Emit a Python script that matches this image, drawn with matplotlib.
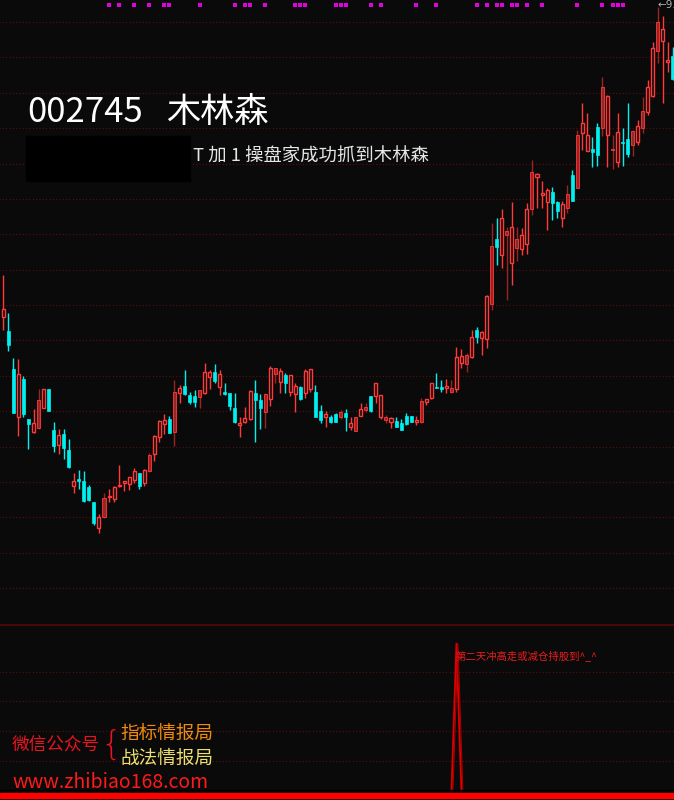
import matplotlib
matplotlib.use("Agg")
import matplotlib.pyplot as plt
from matplotlib.patches import Rectangle
from matplotlib.lines import Line2D
import matplotlib.transforms as mtransforms
import numpy as np

plt.rcParams['font.family'] = ['Noto Sans CJK SC', 'DejaVu Sans']

# ---------------- data ----------------
# candle types: u = red hollow (up), d = cyan solid (down), r = dark red solid (up)
kind = list(
    "udduddurudduddudddduruuuuuuduruuudrudddruudud"
    "dduuuddruruduuduudduddrdururduurudddduruuddur"
    "uuruduurdururuuruuuddurdruuddruruddruruuruudu"
)
opens = [6.83, 6.69, 6.31, 5.83, 6.21, 5.81, 5.68, 5.72, 5.92, 6.11,
         5.70, 5.55, 5.66, 5.50, 5.14, 5.21, 5.19, 5.13, 4.98, 4.72,
         4.83, 5.04, 5.01, 5.14, 5.17, 5.16, 5.20, 5.27, 5.17, 5.29,
         5.46, 5.63, 5.76, 5.81, 5.68, 6.07, 6.14, 6.05, 5.98, 6.03,
         6.07, 6.28, 6.19, 6.26, 6.06, 6.07, 5.92, 5.75, 5.78, 5.81,
         6.07, 6.00, 5.88, 6.01, 6.26, 6.29, 6.17, 6.25, 6.06, 6.13,
         6.07, 6.31, 6.08, 5.80, 5.86, 5.78, 5.78, 5.83, 5.87, 5.77,
         5.69, 5.84, 5.90, 5.89, 6.04, 6.05, 5.83, 5.82, 5.79, 5.70,
         5.76, 5.84, 5.78, 5.78, 6.01, 6.02, 6.13, 6.11, 6.12, 6.08,
         6.11, 6.44, 6.36, 6.43, 6.63, 6.68, 6.61, 6.96, 7.53, 7.45,
         7.65, 7.37, 7.52, 7.51, 7.56, 7.91, 8.26, 8.07, 7.98, 7.97,
         7.98, 7.82, 7.92, 7.99, 8.12, 8.67, 8.65, 8.51, 8.45, 8.72,
         9.04, 8.51, 8.38, 8.57, 8.46, 8.55, 8.58, 8.72, 8.88, 9.04,
         9.49, 9.71, 9.38, 9.21]
highs = [7.25, 6.87, 6.42, 6.41, 6.24, 5.81, 5.91, 6.11, 6.11, 6.11,
         5.78, 5.71, 5.71, 5.61, 5.27, 5.30, 5.29, 5.15, 4.98, 4.86,
         5.07, 5.11, 5.14, 5.35, 5.19, 5.23, 5.32, 5.27, 5.31, 5.47,
         5.65, 5.80, 5.86, 5.84, 6.20, 6.15, 6.30, 6.08, 6.10, 6.10,
         6.37, 6.30, 6.36, 6.30, 6.17, 6.07, 6.07, 5.83, 5.93, 6.10,
         6.20, 6.06, 6.07, 6.34, 6.32, 6.32, 6.27, 6.25, 6.17, 6.14,
         6.31, 6.31, 6.15, 5.95, 5.89, 5.85, 5.87, 5.90, 5.91, 5.83,
         5.83, 5.97, 5.97, 6.04, 6.17, 6.05, 5.85, 5.83, 5.83, 5.81,
         5.87, 5.84, 5.84, 6.02, 6.01, 6.17, 6.27, 6.20, 6.21, 6.20,
         6.53, 6.51, 6.47, 6.70, 6.73, 6.69, 7.05, 7.77, 7.82, 7.91,
         7.73, 7.98, 7.73, 7.72, 7.97, 8.40, 8.27, 8.19, 8.12, 8.13,
         7.99, 7.99, 8.15, 8.30, 8.70, 8.97, 8.87, 8.63, 8.77, 9.23,
         9.05, 8.65, 8.87, 8.72, 8.97, 8.70, 8.80, 9.03, 9.20, 9.58,
         9.93, 9.84, 9.58, 9.53]
lows = [6.70, 6.49, 5.87, 5.64, 5.83, 5.51, 5.67, 5.71, 5.92, 5.89,
        5.48, 5.46, 5.41, 5.32, 5.07, 5.11, 4.98, 4.99, 4.75, 4.67,
        4.82, 4.98, 4.98, 5.13, 5.09, 5.10, 5.17, 5.11, 5.14, 5.28,
        5.39, 5.58, 5.66, 5.67, 5.54, 5.97, 6.05, 5.96, 5.93, 5.92,
        6.06, 6.11, 6.17, 6.05, 6.05, 5.90, 5.77, 5.63, 5.77, 5.80,
        5.58, 5.71, 5.72, 5.94, 6.17, 6.07, 6.07, 6.04, 5.88, 6.00,
        6.02, 6.08, 5.83, 5.77, 5.73, 5.77, 5.78, 5.81, 5.69, 5.70,
        5.69, 5.84, 5.88, 5.88, 5.97, 5.81, 5.77, 5.72, 5.73, 5.70,
        5.75, 5.78, 5.75, 5.77, 5.95, 6.01, 6.12, 6.08, 6.07, 6.07,
        6.08, 6.32, 6.28, 6.42, 6.57, 6.45, 6.52, 6.90, 7.35, 7.32,
        7.00, 7.15, 7.39, 7.45, 7.46, 7.85, 7.92, 7.92, 7.70, 7.80,
        7.82, 7.73, 7.87, 7.99, 8.12, 8.50, 8.49, 8.33, 8.34, 8.64,
        8.33, 8.31, 8.33, 8.34, 8.43, 8.44, 8.55, 8.67, 8.85, 9.03,
        9.37, 8.97, 9.28, 9.20]
closes = [6.91, 6.55, 5.87, 6.26, 5.86, 5.76, 5.77, 6.00, 6.11, 5.89,
          5.54, 5.65, 5.52, 5.33, 5.19, 5.19, 4.99, 5.00, 4.77, 4.83,
          5.02, 5.03, 5.13, 5.15, 5.19, 5.23, 5.29, 5.14, 5.30, 5.45,
          5.64, 5.79, 5.80, 5.67, 6.08, 6.12, 6.06, 5.98, 6.04, 6.10,
          6.28, 6.23, 6.28, 6.13, 6.08, 5.94, 5.78, 5.77, 5.82, 6.09,
          6.00, 5.92, 6.06, 6.32, 6.32, 6.18, 6.25, 6.08, 6.14, 6.01,
          6.29, 6.11, 5.83, 5.89, 5.83, 5.83, 5.86, 5.88, 5.83, 5.73,
          5.83, 5.91, 5.93, 6.04, 6.17, 5.83, 5.80, 5.78, 5.73, 5.77,
          5.84, 5.78, 5.80, 5.99, 5.98, 6.17, 6.12, 6.13, 6.14, 6.12,
          6.43, 6.37, 6.45, 6.63, 6.70, 6.62, 7.04, 7.54, 7.61, 7.82,
          7.69, 7.73, 7.61, 7.65, 7.91, 8.28, 8.23, 8.05, 8.10, 8.08,
          7.89, 7.96, 8.06, 8.25, 8.65, 8.77, 8.49, 8.48, 8.73, 9.13,
          8.65, 8.50, 8.68, 8.58, 8.61, 8.69, 8.74, 8.89, 9.13, 9.52,
          9.78, 9.59, 9.40, 9.44]

# days (1-based) marked with magenta dots at the top
signal_days = [22, 24, 27, 30, 33, 34, 40, 47, 49, 50, 53, 59, 60, 61, 67, 68,
               69, 74, 76, 83, 87, 95, 97, 99, 100, 102, 103, 105, 108, 115,
               120, 122, 123, 124]
# lower indicator: spike on day 91
spike_day = 91
spike_value = 0.9

title_code = "002745"
title_name = "木林森"
subtitle_text = "T 加 1 操盘家成功抓到木林森"
lower_text = "第二天冲高走或减仓持股到^_^"

# ---------------- styling ----------------
BG = '#0a0a0a'
RED = '#ff3a3a'
DARKRED = '#9a2424'
CYAN = '#00f0f0'
GRID = '#5e0d0d'

n = len(opens)
x = np.arange(n)

fig = plt.figure(figsize=(6.74, 8.0), dpi=100, facecolor=BG)
ax = fig.add_axes([0, 175 / 800, 1, 625 / 800])
ax.set_facecolor(BG)
ax.set_xlim(-0.655, (674 - 3.3) / 5.035)
ax.set_ylim(3.75, 10.0)
ax.axis('off')

# dotted grid
grid_levels = np.linspace(4.12, 9.78, 17)
ax.hlines(grid_levels, -1, n + 1, colors=GRID, linestyles=(0, (1, 2)), lw=0.8, zorder=0)

bw = 0.6
for i in range(n):
    o, h, l, c, k = opens[i], highs[i], lows[i], closes[i], kind[i]
    lo_b, hi_b = min(o, c), max(o, c)
    hgt = max(hi_b - lo_b, 0.012)
    if k == 'u':
        ax.vlines(x[i], l, h, color=RED, lw=1.0, zorder=2)
        ax.add_patch(Rectangle((x[i] - bw / 2, lo_b), bw, hgt, facecolor=BG,
                               edgecolor=RED, lw=1.0, zorder=3))
    elif k == 'r':
        ax.vlines(x[i], l, h, color=DARKRED, lw=1.0, zorder=2)
        ax.add_patch(Rectangle((x[i] - bw / 2, lo_b), bw, hgt, facecolor=DARKRED,
                               edgecolor=RED, lw=0.6, zorder=3))
    else:
        ax.vlines(x[i], l, h, color=CYAN, lw=1.0, zorder=2)
        ax.add_patch(Rectangle((x[i] - bw / 2, lo_b), bw, hgt, facecolor=CYAN,
                               edgecolor=CYAN, lw=0.5, zorder=3))

# magenta signal dots along the top
trans = mtransforms.blended_transform_factory(ax.transData, ax.transAxes)
ax.scatter([d - 1 for d in signal_days], [1 - 4.5 / 625] * len(signal_days),
           marker='s', s=5, color='#e000e0', transform=trans, zorder=5, linewidths=0)

# highest price label (cut by the right edge, as in the original)
imax = int(np.argmax(highs))
ax.text(imax - 0.1, highs[imax] + 0.02, "\u2190" + f"{highs[imax]:.2f}", color='#b0b0b0',
        fontsize=7.5, ha='left', va='center', family=['DejaVu Sans'], zorder=6)

# ---------------- lower panel ----------------
ax2 = fig.add_axes([0, 7 / 800, 1, 166 / 800])
ax2.set_facecolor(BG)
ax2.set_xlim(ax.get_xlim())
ax2.set_ylim(0, 1)
ax2.axis('off')
ax2.hlines([0.193, 0.373, 0.554, 0.729], -1, n + 1, colors=GRID,
           linestyles=(0, (1, 2)), lw=0.8, zorder=0)
sig = np.zeros(n)
sig[spike_day - 1] = spike_value
ax2.plot(x, sig, color='#e00000', lw=1.3, zorder=3)
ax2.plot(x + 0.3, sig, color='#b00000', lw=0.7, zorder=3)
ax2.text(spike_day - 1 - 0.2, 0.82, lower_text, color='#e81c1c', fontsize=7.5,
         ha='left', va='center', zorder=4)

# separators
fig.add_artist(Line2D([0, 1], [175 / 800, 175 / 800], color='#4a0808', lw=1.6))
fig.add_artist(Rectangle((0, 7 / 800), 1, 3 / 800, transform=fig.transFigure,
                         color='#000000', zorder=5))
fig.add_artist(Rectangle((0, 2 / 800), 1, 5 / 800, transform=fig.transFigure,
                         color='#ff0000', zorder=5))

# ---------------- texts ----------------
def fy(px):
    return 1 - px / 800

def fx(px):
    return px / 674

fig.text(fx(27), fy(122), title_code, color='white', fontsize=25.0, ha='left', va='baseline')
fig.text(fx(166), fy(122), title_name, color='white', fontsize=24.6, ha='left', va='baseline')
fig.add_artist(Rectangle((fx(26), fy(181)), fx(164), 45 / 800, transform=fig.transFigure,
                         color='#000000', zorder=4))
fig.text(fx(193), fy(162), subtitle_text, color='#e6e6e6', fontsize=13.2, ha='left', va='baseline')

fig.text(fx(12), fy(746), "微信公众号", color='#e8141e', fontsize=12.7, ha='left', va='center')
fig.text(fx(111), fy(745), "{", color='#e8141e', fontsize=24, ha='center', va='center',
         family=['DejaVu Sans'], fontweight='light')
fig.text(fx(120), fy(734), "指标情报局", color='#f08c0a', fontsize=13.4, ha='left', va='center')
fig.text(fx(120), fy(759), "战法情报局", color='#ece070', fontsize=13.4, ha='left', va='center')
fig.text(fx(12), fy(783), "www.zhibiao168.com", color='#ff1a1a', fontsize=14, ha='left', va='center')

fig.savefig('out.png', dpi=100, facecolor=BG)
